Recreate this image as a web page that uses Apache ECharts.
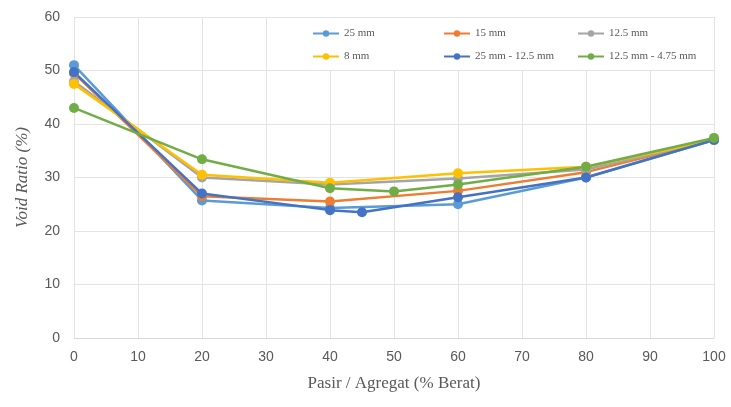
<!DOCTYPE html>
<html><head><meta charset="utf-8">
<script src="https://cdn.jsdelivr.net/npm/echarts@6/dist/echarts.min.js"></script>
<style>html,body{margin:0;padding:0;background:#fff}#c{width:731px;height:407px}</style>
</head><body><div id="c"></div>
<script>
const seriesNames = ['25 mm', '15 mm', '12.5 mm', '8 mm', '25 mm - 12.5 mm', '12.5 mm - 4.75 mm'];
const colors = ['#5B9BD5', '#ED7D31', '#A5A5A5', '#FFC000', '#4472C4', '#70AD47'];
const s25 = [[0, 51], [20, 25.7], [40, 24.3], [60, 25], [80, 30], [100, 37]];
const s15 = [[0, 49.5], [20, 26.5], [40, 25.5], [60, 27.5], [80, 31], [100, 37]];
const s125 = [[0, 48], [20, 30], [40, 28.7], [60, 29.8], [80, 31.5], [100, 37]];
const s8 = [[0, 47.5], [20, 30.5], [40, 29], [60, 30.8], [80, 32], [100, 37]];
const s25_125 = [[0, 49.7], [20, 27], [40, 23.9], [45, 23.5], [60, 26.3], [80, 30], [100, 37]];
const s125_475 = [[0, 43], [20, 33.4], [40, 28], [50, 27.4], [60, 28.7], [80, 32], [100, 37.4]];
const allData = [s25, s15, s125, s8, s25_125, s125_475];
const xTitle = 'Pasir / Agregat (% Berat)';
const yTitle = 'Void Ratio (%)';

const chart = echarts.init(document.getElementById('c'));
const legendPos = [[312, 28], [443, 28], [577, 28], [312, 51], [443, 51], [577, 51]];
const legends = seriesNames.map((n, i) => ({
  data: [n], left: legendPos[i][0], top: legendPos[i][1],
  itemWidth: 26, itemHeight: 8, itemGap: 2, padding: 0,
  textStyle: { fontFamily: 'Liberation Serif', fontSize: 11, color: '#595959' }
}));
chart.setOption({
  animation: false,
  color: colors,
  grid: { left: 74, right: 17, top: 17, bottom: 69 },
  graphic: [{ type: 'rect', z: 1, shape: { x: 298, y: 18, width: 412, height: 52 }, style: { fill: '#fff' } }],
  legend: legends,
  xAxis: {
    type: 'value', min: 0, max: 100, interval: 10,
    name: xTitle, nameLocation: 'middle', nameGap: 37,
    nameTextStyle: { fontFamily: 'Liberation Serif', fontSize: 17, color: '#595959' },
    axisLine: { lineStyle: { color: '#d9d9d9' } }, axisTick: { show: false },
    axisLabel: { fontFamily: 'Liberation Sans Narrow, Liberation Sans', fontSize: 14, color: '#595959', margin: 12 },
    splitLine: { lineStyle: { color: '#e3e3e3' } }
  },
  yAxis: {
    type: 'value', min: 0, max: 60, interval: 10,
    name: yTitle, nameLocation: 'middle', nameGap: 43,
    nameTextStyle: { fontFamily: 'Liberation Serif', fontStyle: 'italic', fontSize: 17, color: '#595959' },
    axisLine: { show: false }, axisTick: { show: false },
    axisLabel: { fontFamily: 'Liberation Sans Narrow, Liberation Sans', fontSize: 14, color: '#595959', margin: 14 },
    splitLine: { lineStyle: { color: '#e3e3e3' } }
  },
  series: allData.map((d, i) => ({
    name: seriesNames[i], type: 'line', data: d,
    symbol: 'circle', symbolSize: 10,
    lineStyle: { width: 2.5, color: colors[i] },
    itemStyle: { color: colors[i] }
  }))
});
</script></body></html>
